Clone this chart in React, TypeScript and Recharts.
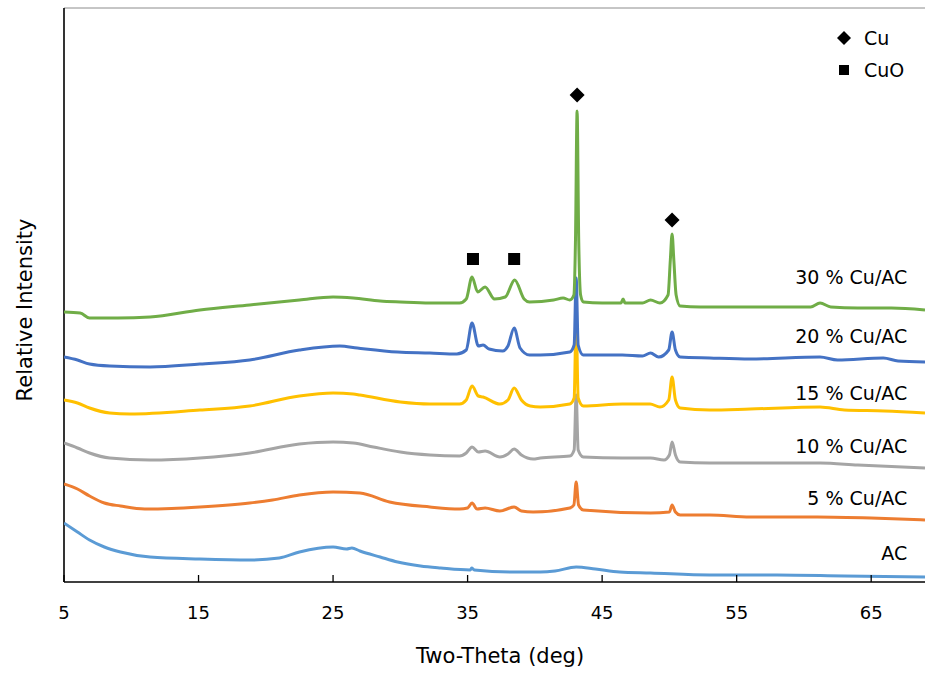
import {
  ComposedChart,
  Legend,
  Line,
  ReferenceDot,
  ReferenceLine,
  Scatter,
  XAxis,
  YAxis,
} from "recharts";

const FONT = "'DejaVu Sans', sans-serif";

// two-theta (deg) vs relative intensity (arbitrary units, stacked)
const cu30 = [
  [5.0, 270], [6.2, 269], [6.9, 264], [9.0, 264], [11.4, 265], [15.1, 272], [18.8, 277],
  [22.5, 282], [25.0, 285], [26.5, 284], [28.5, 281], [30.0, 280],
  [32.2, 279], [34.4, 279], [34.9, 283], [35.33, 305], [35.75, 290], [36.3, 295], [37.0, 283],
  [37.8, 285], [38.5, 302], [39.2, 283], [39.6, 280], [41.4, 282], [42.1, 284], [42.6, 282],
  [42.9, 287], [43.02, 342], [43.14, 471], [43.26, 342], [43.4, 287], [43.6, 280], [45.0, 279],
  [46.4, 279], [46.56, 283], [46.7, 279], [48.0, 279], [48.6, 282], [49.3, 279], [49.9, 287],
  [50.07, 322], [50.2, 348], [50.33, 322], [50.5, 287], [50.8, 276], [52.3, 275], [55.0, 275],
  [58.0, 275], [60.5, 275], [61.2, 279], [62.0, 275], [64.0, 274], [66.5, 274], [69.0, 272],
];
const cu20 = [
  [5.0, 225], [6.0, 222], [6.9, 218], [8.4, 216], [11.4, 215], [15.1, 218], [18.8, 222],
  [22.5, 232], [25.5, 236], [26.8, 234], [29.8, 230], [32.2, 229], [34.2, 228], [34.9, 232],
  [35.33, 259], [35.8, 236], [36.15, 237], [36.6, 233], [37.6, 231], [38.0, 236], [38.46, 254],
  [38.9, 234], [39.6, 227], [40.4, 227], [42.6, 230], [42.92, 237], [43.07, 304], [43.22, 237],
  [43.6, 227], [46.5, 227], [48.0, 226], [48.6, 229], [49.2, 225], [49.95, 232], [50.2, 250],
  [50.45, 232], [50.8, 225], [53.0, 224], [56.0, 223], [61.2, 225], [62.5, 222], [65.9, 224],
  [67.0, 221], [69.0, 220],
];
const cu15 = [
  [5.0, 182], [6.0, 179], [6.9, 174], [8.4, 169], [9.9, 168], [15.1, 172], [18.8, 176],
  [22.5, 186], [25.0, 189], [26.5, 188], [27.0, 187], [30.0, 180], [32.2, 178], [34.4, 178],
  [34.9, 182], [35.33, 196], [35.8, 186], [36.15, 185], [37.4, 178], [38.0, 182], [38.46, 194],
  [39.0, 182], [39.65, 176], [40.4, 175], [42.6, 178], [42.92, 184], [43.07, 264], [43.22, 184],
  [43.6, 176], [46.5, 178], [48.57, 178], [49.3, 175], [49.95, 182], [50.2, 205], [50.45, 182],
  [50.8, 174], [53.0, 172], [56.0, 173], [61.2, 175], [63.0, 172], [66.0, 171], [69.0, 169],
];
const cu10 = [
  [5.0, 139], [6.0, 134], [6.9, 129], [8.4, 124], [11.4, 122], [15.1, 124], [18.8, 129],
  [22.5, 138], [25.0, 140], [26.5, 139], [28.0, 135], [30.0, 130], [32.2, 127],
  [34.4, 126], [34.9, 129], [35.33, 135], [35.8, 130], [36.3, 131], [37.4, 125], [38.0, 128],
  [38.46, 133], [39.0, 127], [39.87, 123], [40.4, 124], [42.6, 126], [42.92, 132], [43.07, 187],
  [43.22, 132], [43.6, 125], [46.5, 124], [48.6, 124], [49.6, 122], [50.0, 127], [50.2, 140],
  [50.45, 127], [50.8, 120], [53.0, 119], [56.0, 119], [61.2, 119], [64.0, 117], [69.0, 114],
];
const cu5 = [
  [5.0, 98], [6.0, 93], [6.9, 86], [8.0, 79], [9.2, 76], [11.0, 73], [13.0, 73.5], [15.1, 75],
  [18.8, 79], [20.5, 82], [22.5, 87], [25.0, 90], [27.0, 89], [29.2, 80], [32.2, 75], [34.4, 73],
  [35.0, 74], [35.33, 79], [35.7, 73], [36.3, 74], [37.4, 71], [38.46, 75], [39.0, 71],
  [39.87, 70], [42.6, 74], [42.9, 77], [43.07, 100], [43.25, 77], [43.6, 72], [48.6, 69],
  [50.0, 70], [50.2, 77], [50.45, 70], [50.8, 67], [53.0, 67], [56.0, 65], [61.0, 65], [65.0, 64],
  [69.0, 62],
];
const acOnly = [
  [5.0, 59], [6.0, 50], [6.9, 42], [8.0, 35], [9.2, 30], [11.4, 25], [15.1, 23], [18.8, 22],
  [21.0, 24], [22.5, 30], [25.0, 35], [26.0, 33], [26.4, 34], [27.0, 31], [28.5, 25], [29.8, 20],
  [31.5, 16], [33.0, 14], [35.2, 12], [35.3, 14], [35.5, 12], [38.2, 10], [40.4, 10], [41.5, 11],
  [43.07, 15], [44.5, 13], [46.3, 10], [48.6, 9], [53.0, 7], [58.0, 7], [63.0, 6], [69.0, 5],
];

// peak markers
const cuPeaks = [
  [43.14, 487],
  [50.2, 362],
];
const cuoPeaks = [
  [35.4, 323],
  [38.46, 323],
];

const xTicks = [5, 15, 25, 35, 45, 55, 65];

const series = [
  { name: "AC", data: acOnly, color: "#5B9BD5", labelY: 29 },
  { name: "5 % Cu/AC", data: cu5, color: "#ED7D31", labelY: 84 },
  { name: "10 % Cu/AC", data: cu10, color: "#A5A5A5", labelY: 136 },
  { name: "15 % Cu/AC", data: cu15, color: "#FFC000", labelY: 189 },
  { name: "20 % Cu/AC", data: cu20, color: "#4472C4", labelY: 246 },
  { name: "30 % Cu/AC", data: cu30, color: "#70AD47", labelY: 305 },
];

const toRows = (pts: number[][]) => pts.map(([x, y]) => ({ x, y }));

function XTick(props: any) {
  const { x, y, payload } = props;
  return (
    <g>
      <line x1={x} x2={x} y1={y} y2={y - 7} stroke="#000" strokeWidth={1.3} />
      <text x={x} y={y + 37} textAnchor="middle" fontSize={18} fill="#000" fontFamily={FONT}>
        {payload.value}
      </text>
    </g>
  );
}

function AxisTitles() {
  return (
    <g fontFamily={FONT} fontSize={21} fill="#000">
      <text x={500} y={663} textAnchor="middle">
        Two-Theta (deg)
      </text>
      <text
        x={26}
        y={310}
        textAnchor="middle"
        dominantBaseline="middle"
        transform="rotate(-90, 26, 310)"
      >
        Relative Intensity
      </text>
    </g>
  );
}

function Diamond(props: any) {
  const { cx, cy } = props;
  const r = 7.5;
  return (
    <polygon
      points={`${cx},${cy - r} ${cx + r},${cy} ${cx},${cy + r} ${cx - r},${cy}`}
      fill="#000"
    />
  );
}

function Square(props: any) {
  const { cx, cy } = props;
  return <rect x={cx - 6} y={cy - 6} width={12} height={12} fill="#000" />;
}

function MarkerLegend() {
  const row = { display: "flex", alignItems: "center", height: 32 };
  return (
    <div style={{ fontFamily: FONT, fontSize: 19, color: "#000" }}>
      <div style={row}>
        <svg width={30} height={20}>
          <polygon points="10,3 17,10 10,17 3,10" fill="#000" />
        </svg>
        <span>Cu</span>
      </div>
      <div style={row}>
        <svg width={30} height={20}>
          <rect x={5} y={5} width={10} height={10} fill="#000" />
        </svg>
        <span>CuO</span>
      </div>
    </div>
  );
}

export default function App() {
  return (
    <div style={{ position: "absolute", left: 0, top: 0, background: "#fff" }}>
      <ComposedChart
        width={925}
        height={673}
        margin={{ top: 8, right: 0, left: 64, bottom: 0 }}
        style={{ fontFamily: FONT }}
      >
        <XAxis
          dataKey="x"
          type="number"
          domain={[5, 69]}
          ticks={xTicks}
          allowDataOverflow
          height={91}
          tickSize={0}
          tickMargin={0}
          tickLine={false}
          tick={<XTick />}
          axisLine={{ stroke: "#000", strokeWidth: 1.6 }}
          label={{ content: () => <AxisTitles /> }}
        />
        <YAxis type="number" domain={[0, 574]} hide />
        <ReferenceLine y={574} stroke="#8c8c8c" strokeWidth={1} />
        <ReferenceLine x={5} stroke="#000" strokeWidth={1.6} />
        {series.map((s) => (
          <Line
            key={s.name}
            name={s.name}
            data={toRows(s.data)}
            dataKey="y"
            type="monotone"
            stroke={s.color}
            strokeWidth={3}
            strokeLinejoin="round"
            dot={false}
            activeDot={false}
            isAnimationActive={false}
            legendType="none"
          />
        ))}
        <Scatter
          name="Cu"
          data={toRows(cuPeaks)}
          dataKey="y"
          shape={<Diamond />}
          isAnimationActive={false}
        />
        <Scatter
          name="CuO"
          data={toRows(cuoPeaks)}
          dataKey="y"
          shape={<Square />}
          isAnimationActive={false}
        />
        {series.map((s) => (
          <ReferenceDot
            key={"lbl-" + s.name}
            x={67.68}
            y={s.labelY}
            r={0}
            fill="none"
            stroke="none"
            label={{
              value: s.name,
              position: "left",
              offset: 0,
              fill: "#000",
              fontSize: 19,
              fontFamily: FONT,
            }}
          />
        ))}
        <Legend
          layout="vertical"
          align="center"
          verticalAlign="middle"
          content={<MarkerLegend />}
          wrapperStyle={{ left: 834, top: 22, width: 90 }}
        />
      </ComposedChart>
    </div>
  );
}
